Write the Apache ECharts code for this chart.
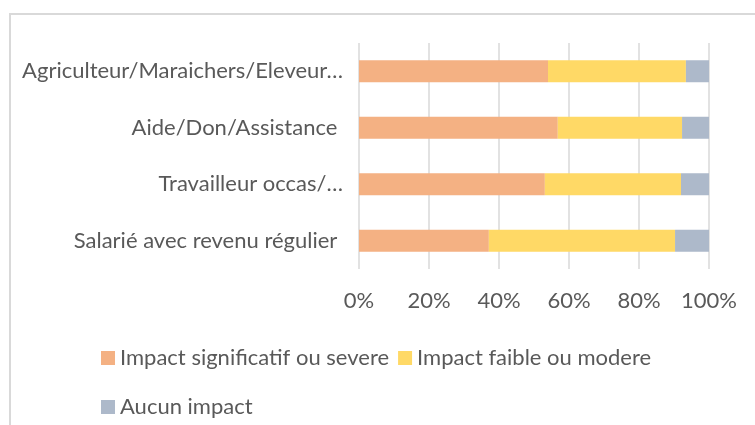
<!DOCTYPE html>
<html>
<head>
<meta charset="utf-8">
<script src="https://cdn.jsdelivr.net/npm/echarts@6/dist/echarts.min.js"></script>
<style>
  html, body { margin: 0; padding: 0; background: #fff; }
  #chart { width: 755px; height: 425px; }
</style>
</head>
<body>
<div id="chart"></div>
<script>
    // categories, bottom to top as the axis draws them
    const categories = [
        'Salarié avec revenu régulier ',
        'Travailleur occas/…',
        'Aide/Don/Assistance ',
        'Agriculteur/Maraichers/Eleveur…'
    ];
    const seriesNames = ['Impact significatif ou severe', 'Impact faible ou modere', 'Aucun impact'];
    const significatif = [37.1, 53.1, 56.8, 54.0];
    const faible = [53.2, 38.9, 35.5, 39.4];
    const aucun = [9.7, 8.0, 7.7, 6.6];
    const xTicks = [0, 20, 40, 60, 80, 100];

    const colors = ['#F4B183', '#FFD966', '#ADB9CA'];
    const font = 'Lato, "Open Sans", sans-serif';
    const textColor = '#595959';
    const fontSize = 22;

    const myChart = echarts.init(document.getElementById('chart'));

    const option = {
        animation: false,
        // cadre gris autour du graphique
        graphic: [{
            type: 'rect',
            shape: { x: 10, y: 14, width: 800, height: 500 },
            style: { fill: 'none', stroke: '#d9d9d9', lineWidth: 2 }
        }],
        legend: [{
            data: seriesNames.slice(0, 2),
            left: 96,
            top: 342,
            itemWidth: 14,
            itemHeight: 14,
            itemGap: 9,
            icon: 'rect',
            textStyle: { color: textColor, fontSize: fontSize, fontFamily: font }
        }, {
            data: seriesNames.slice(2),
            left: 96,
            top: 391,
            itemWidth: 14,
            itemHeight: 14,
            icon: 'rect',
            textStyle: { color: textColor, fontSize: fontSize, fontFamily: font }
        }],
        grid: {
            left: 359,
            right: 46,
            top: 43,
            height: 226
        },
        xAxis: {
            type: 'value',
            min: xTicks[0],
            max: xTicks[xTicks.length - 1],
            interval: 20,
            axisLine: { show: false },
            axisTick: { show: false },
            axisLabel: {
                formatter: '{value}%',
                color: textColor,
                fontSize: fontSize,
                fontFamily: font,
                margin: 21
            },
            // lignes de grille verticales
            splitLine: {
                lineStyle: { color: '#d9d9d9', width: 1.5 }
            }
        },
        yAxis: {
            type: 'category',
            data: categories,
            axisLine: { show: false },
            axisTick: { show: false },
            axisLabel: {
                color: textColor,
                fontSize: fontSize,
                fontFamily: font,
                margin: 16
            }
        },
        series: [
            { name: seriesNames[0], data: significatif },
            { name: seriesNames[1], data: faible },
            { name: seriesNames[2], data: aucun }
        ].map((s, i) => ({
            name: s.name,
            type: 'bar',
            stack: 'total',
            barWidth: 22,
            itemStyle: { color: colors[i] },
            data: s.data
        }))
    };
    myChart.setOption(option);
</script>
</body>
</html>
